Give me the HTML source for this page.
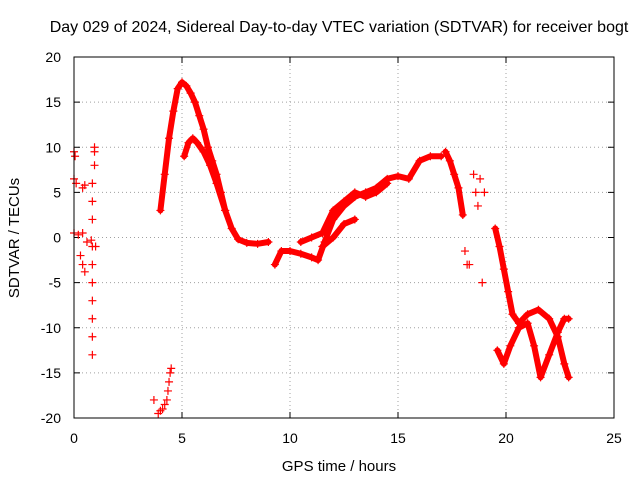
<!DOCTYPE html>
<html><head><meta charset="utf-8"><style>
body{margin:0;background:#fff;}
svg{display:block;font-family:"Liberation Sans",sans-serif;}
</style></head><body>
<svg id="chart" width="640" height="480">
<text x="339" y="32" text-anchor="middle" font-size="16">Day 029 of 2024, Sidereal Day-to-day VTEC variation (SDTVAR) for receiver bogt</text>
<text x="339" y="471" text-anchor="middle" font-size="15">GPS time / hours</text>
<text transform="translate(19,238) rotate(-90)" text-anchor="middle" font-size="15">SDTVAR / TECUs</text>
<g id="grid"></g><g id="ticks"></g><g id="marks"></g>
<rect x="74" y="57" width="540" height="361" fill="none" stroke="#000"/>
</svg>
<script>
const xTicks=[0,5,10,15,20,25];
const yTicks=[-20,-15,-10,-5,0,5,10,15,20];
const trackA_x=[4.0,4.2,4.4,4.6,4.8,5.0,5.2,5.4,5.6,5.8,6.0,6.2,6.4,6.6,6.8,7.0];
const trackA_y=[3,7,11,14,16.5,17.2,16.8,16,15,13.5,12,10,8.5,7,5,3];
const trackB_x=[5.1,5.3,5.5,5.7,6.0,6.3,6.6,7.0,7.3,7.6,8.0,8.5,9.0];
const trackB_y=[9,10.5,11,10.5,9.5,8,6,3,1,-0.2,-0.6,-0.7,-0.5];
const trackC_x=[9.3,9.6,10.0,10.5,11.0,11.3,11.6,12.0,12.5,13.0,13.5,14.0,14.5,15.0,15.5,16.0,16.5,17.0];
const trackC_y=[-3,-1.5,-1.5,-1.8,-2.2,-2.5,-0.5,2,3.5,4.5,5,5.5,6.5,6.8,6.5,8.5,9,9];
const trackD_x=[10.5,11.0,11.5,12.0,12.5,13.0,13.5,14.0,14.5];
const trackD_y=[-0.5,0,0.5,3,4,5,4.5,5,6];
const trackE_x=[11.5,12.0,12.5,13.0];
const trackE_y=[-1,0,1.5,2];
const trackF_x=[17.2,17.4,17.6,17.8,18.0];
const trackF_y=[9.5,8.5,7,5.5,2.5];
const trackG_x=[19.5,19.7,19.9,20.1,20.3,20.6,21.0,21.5,22.0,22.4,22.7,22.9];
const trackG_y=[1,-1,-3.5,-6,-8.5,-9.5,-8.5,-8,-9,-11,-14,-15.5];
const trackH_x=[19.6,19.9,20.2,20.6,21.0,21.3,21.6,22.0,22.4,22.7,22.9];
const trackH_y=[-12.5,-14,-12,-10,-9.5,-12,-15.5,-13,-10.5,-9,-9];
const early_x=[0,0.05,0.0,0.1,0.4,0.5,0.0,0.2,0.4,0.6,0.8,1.0,0.3,0.4,0.5,0.85,0.85,0.85,0.85,0.85,0.85,0.85,0.85,0.85,0.85,0.95,0.95,0.95];
const early_y=[9.5,9,6.5,6,5.5,5.8,0.5,0.3,0.5,-0.5,-0.3,-1,-2,-3,-3.8,-13,-11,-9,-7,-5,-3,-1,2,4,6,8,9.5,10];
const lowcl_x=[3.7,3.9,4.0,4.1,4.2,4.3,4.35,4.4,4.45,4.5];
const lowcl_y=[-18,-19.5,-19.2,-19,-18.5,-18,-17,-16,-15,-14.5];
const spike_x=[18.1,18.2,18.3,18.5,18.6,18.7,18.8,18.9,19.0];
const spike_y=[-1.5,-3,-3,7,5,3.5,6.5,-5,5];
const tracks=[[trackA_x,trackA_y,'track-a'],[trackB_x,trackB_y,'track-b'],[trackC_x,trackC_y,'track-c'],[trackD_x,trackD_y,'track-d'],[trackE_x,trackE_y,'track-e'],[trackF_x,trackF_y,'track-f'],[trackG_x,trackG_y,'track-g'],[trackH_x,trackH_y,'track-h']];
const scatters=[[early_x,early_y,'early-points'],[lowcl_x,lowcl_y,'low-cluster'],[spike_x,spike_y,'spike-points']];
const X=v=>74+v*540/25, Y=v=>418-(v+20)*361/40;
const NS='http://www.w3.org/2000/svg';
const g=document.getElementById('grid'),t=document.getElementById('ticks'),m=document.getElementById('marks');
function mk(tag,attrs,parent){const e=document.createElementNS(NS,tag);for(const k in attrs)e.setAttribute(k,attrs[k]);parent.appendChild(e);return e;}
xTicks.forEach(v=>{
 if(v>0&&v<25){const l=mk('line',{x1:X(v),x2:X(v),y1:57,y2:418,stroke:'#a0a0a0','stroke-dasharray':'1,3'},g);
 
 }
 const tx=mk('text',{x:X(v),y:443,'text-anchor':'middle','font-size':14},t);tx.textContent=v;
 
 
 mk('line',{x1:X(v),x2:X(v),y1:418,y2:412,stroke:'#000'},t);mk('line',{x1:X(v),x2:X(v),y1:57,y2:63,stroke:'#000'},t);
});
yTicks.forEach(v=>{
 if(v>-20&&v<20){const l=mk('line',{x1:74,x2:614,y1:Y(v),y2:Y(v),stroke:'#a0a0a0','stroke-dasharray':'1,3'},g);
 
 }
 const tx=mk('text',{x:61,y:Y(v)+5,'text-anchor':'end','font-size':14},t);tx.textContent=v;
 
 
 mk('line',{x1:74,x2:80,y1:Y(v),y2:Y(v),stroke:'#000'},t);mk('line',{x1:614,x2:608,y1:Y(v),y2:Y(v),stroke:'#000'},t);
});
function plus(x,y,parent){mk('path',{d:`M${X(x)-4},${Y(y)}h8M${X(x)},${Y(y)-4}v8`,stroke:'#f00','stroke-width':1.2,fill:'none'},parent);}
tracks.forEach(([xs,ys,name])=>{
 const grp=mk('g',{},m);
 
 
 mk('polyline',{points:xs.map((x,i)=>X(x)+','+Y(ys[i])).join(' '),fill:'none',stroke:'#f00','stroke-width':6,'stroke-linejoin':'round','stroke-linecap':'round'},grp);
 xs.forEach((x,i)=>plus(x,ys[i],grp));
});
scatters.forEach(([xs,ys,name])=>{
 const grp=mk('g',{},m);
 
 
 xs.forEach((x,i)=>plus(x,ys[i],grp));
});
</script>
</body></html>
